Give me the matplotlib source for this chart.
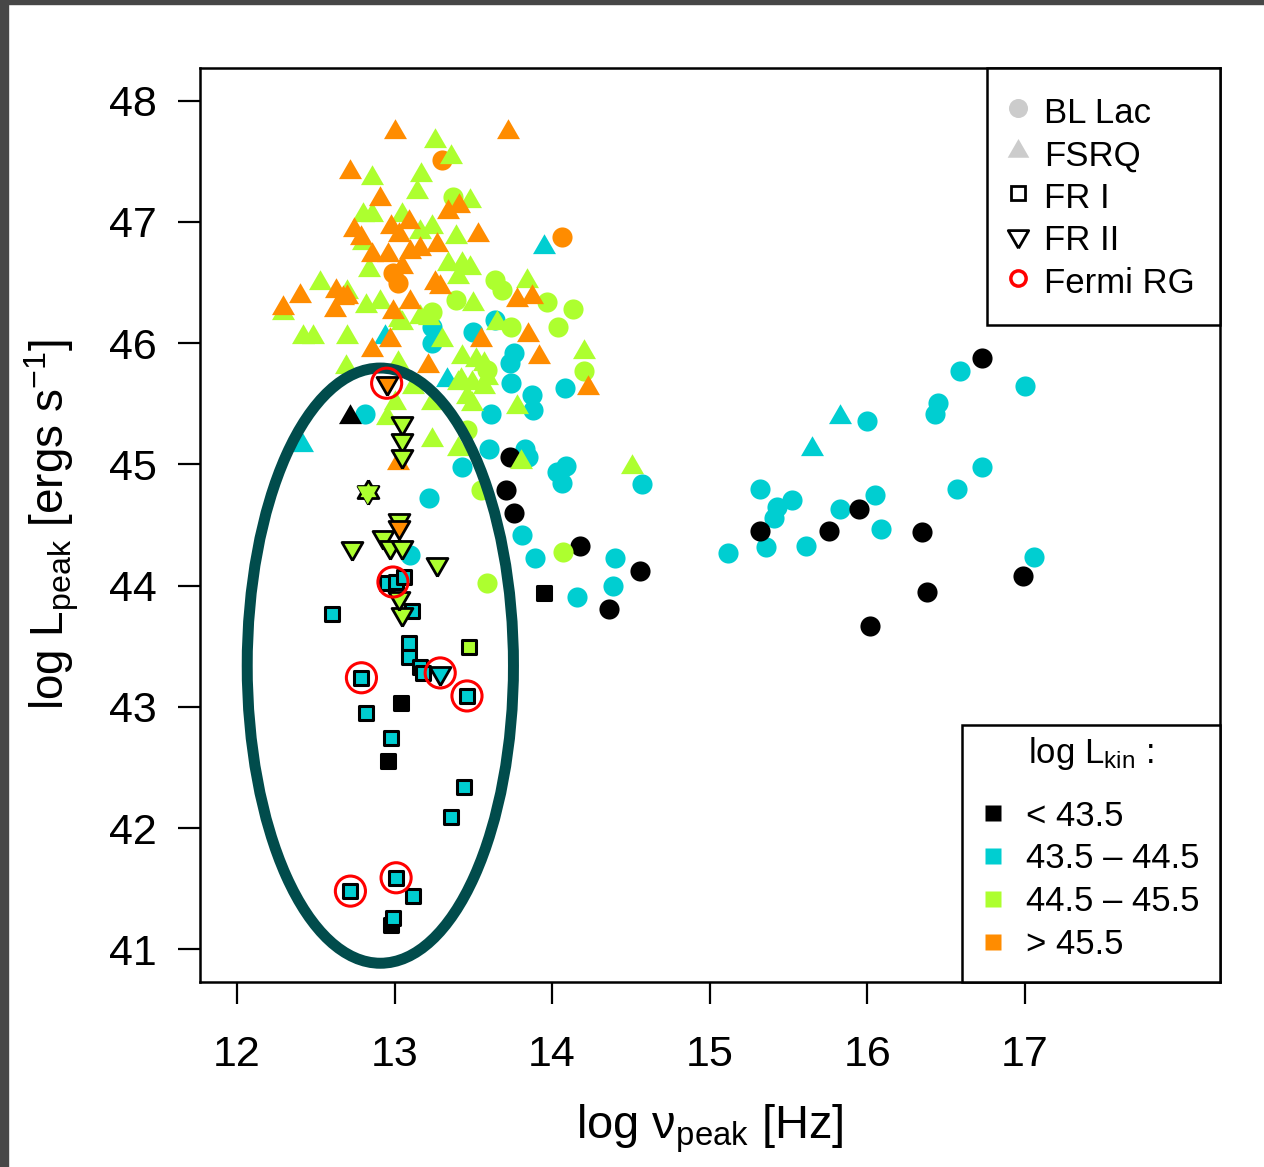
import numpy as np
import matplotlib.pyplot as plt
from matplotlib.patches import Ellipse, Rectangle
from matplotlib.lines import Line2D

plt.rcParams['font.family'] = ['Liberation Sans', 'DejaVu Sans']
plt.rcParams['mathtext.fontset'] = 'custom'
plt.rcParams['mathtext.rm'] = 'Liberation Sans'
plt.rcParams['mathtext.it'] = 'Liberation Sans'
plt.rcParams['mathtext.default'] = 'regular'

kin_colors = ['#000000', '#00CED1', '#ADFF2F', '#FF8C00']
kin_labels = ['< 43.5', '43.5 – 44.5', '44.5 – 45.5', '> 45.5']
type_labels = ['BL Lac', 'FSRQ', 'FR I', 'FR II', 'Fermi RG']

# BL Lac (log nu_peak, log L_peak), one pair per L_kin bin
bll_x0 = [16.73, 15.95, 15.76, 15.32, 16.35, 16.99, 16.38, 16.02, 14.56, 13.73, 13.71, 13.76, 14.18, 14.36]
bll_y0 = [45.88, 44.63, 44.45, 44.45, 44.44, 44.08, 43.95, 43.67, 44.12, 45.06, 44.79, 44.60, 44.33, 43.81]
bll_x1 = [16.05, 16.09, 15.83, 15.61, 15.52, 15.43, 15.41, 15.32, 15.36, 15.12, 16.00, 16.59, 16.45, 16.43,
          17.00, 16.73, 16.57, 17.06, 14.57, 13.24, 13.24, 13.50, 13.64, 13.76, 13.73, 13.74, 13.87, 13.88,
          14.08, 13.61, 13.60, 13.83, 13.85, 13.43, 14.03, 14.09, 14.06, 13.22, 13.81, 13.89, 14.40, 14.39,
          14.16, 13.10, 12.81]
bll_y1 = [44.75, 44.47, 44.63, 44.33, 44.71, 44.65, 44.56, 44.80, 44.32, 44.27, 45.36, 45.77, 45.51, 45.42,
          45.65, 44.98, 44.80, 44.24, 44.84, 46.13, 46.00, 46.09, 46.19, 45.92, 45.84, 45.67, 45.57, 45.45,
          45.63, 45.42, 45.13, 45.13, 45.06, 44.98, 44.94, 44.99, 44.85, 44.72, 44.42, 44.23, 44.23, 44.00,
          43.91, 44.25, 45.42]
bll_x2 = [13.37, 13.64, 13.68, 13.97, 14.13, 14.04, 14.20, 13.39, 13.24, 13.74, 13.59, 13.46, 13.55, 13.59, 14.07]
bll_y2 = [47.21, 46.52, 46.44, 46.34, 46.28, 46.13, 45.77, 46.36, 46.26, 46.13, 45.78, 45.28, 44.79, 44.02, 44.28]
bll_x3 = [13.30, 14.06, 12.99, 13.02]
bll_y3 = [47.51, 46.88, 46.58, 46.50]

# FSRQ
fsrq_x0 = [12.72]
fsrq_y0 = [45.39]
fsrq_x1 = [13.95, 12.94, 13.33, 12.41, 15.83, 15.65]
fsrq_y1 = [46.79, 46.05, 45.70, 45.16, 45.39, 45.13]
fsrq_x2 = [13.26, 13.36, 12.86, 13.17, 13.14, 13.48, 12.80, 12.86, 13.05, 13.16, 13.24, 13.39, 12.80, 13.34,
           13.43, 13.48, 13.40, 12.84, 12.53, 12.70, 12.82, 12.91, 12.29, 12.42, 12.48, 12.70, 13.05, 13.50,
           13.84, 13.30, 13.43, 13.52, 13.57, 14.20, 13.03, 13.40, 13.49, 13.57, 13.78, 13.49, 12.69, 13.02,
           13.24, 13.16, 13.22, 13.65, 13.24, 13.40, 13.80, 14.51, 13.00, 13.12, 13.46, 12.95, 13.59, 13.42]
fsrq_y2 = [47.67, 47.54, 47.36, 47.39, 47.25, 47.17, 47.06, 47.06, 47.06, 46.92, 46.96, 46.88, 46.83, 46.65,
           46.65, 46.62, 46.55, 46.60, 46.50, 46.42, 46.31, 46.34, 46.25, 46.05, 46.05, 46.05, 46.17, 46.32,
           46.51, 46.03, 45.89, 45.86, 45.83, 45.93, 46.19, 45.67, 45.67, 45.64, 45.47, 45.50, 45.80, 45.84,
           45.51, 46.22, 46.21, 46.17, 45.20, 45.13, 45.02, 44.98, 45.51, 45.64, 45.56, 45.38, 45.71, 45.70]
fsrq_x3 = [13.00, 13.72, 12.72, 12.91, 13.34, 13.41, 12.74, 12.79, 12.98, 13.09, 13.03, 13.53, 13.27, 13.16,
           13.10, 12.96, 12.86, 13.05, 13.26, 13.29, 12.40, 12.29, 12.63, 12.67, 12.70, 12.62, 12.99, 13.10,
           13.78, 13.87, 13.55, 13.85, 12.97, 12.86, 13.21, 13.92, 14.23, 13.02]
fsrq_y3 = [47.74, 47.74, 47.41, 47.19, 47.08, 47.13, 46.93, 46.87, 46.96, 47.00, 46.89, 46.89, 46.81, 46.78,
           46.75, 46.73, 46.73, 46.63, 46.50, 46.46, 46.39, 46.29, 46.43, 46.37, 46.38, 46.27, 46.26, 46.34,
           46.36, 46.38, 46.03, 46.07, 46.03, 45.94, 45.81, 45.89, 45.63, 45.01]

# FR I
fr1_x0 = [13.95, 13.04, 12.96, 12.98]
fr1_y0 = [43.94, 43.03, 42.55, 41.20]
fr1_x1 = [12.95, 13.01, 13.06, 12.60, 13.11, 13.09, 13.09, 13.16, 13.18, 12.79, 13.46, 12.82, 12.98, 13.44,
          13.36, 13.01, 12.72, 13.12, 12.99]
fr1_y1 = [44.02, 44.03, 44.07, 43.77, 43.79, 43.53, 43.41, 43.33, 43.28, 43.24, 43.09, 42.95, 42.74, 42.34,
          42.09, 41.59, 41.48, 41.44, 41.26]
fr1_x2 = [13.47]
fr1_y2 = [43.49]

# FR II
fr2_x1 = [13.29]
fr2_y1 = [43.28]
fr2_x2 = [13.05, 13.05, 13.05, 12.83, 13.03, 12.73, 12.93, 12.97, 13.05, 13.27, 13.05, 13.03]
fr2_y2 = [45.34, 45.20, 45.07, 44.77, 44.54, 44.31, 44.40, 44.32, 44.32, 44.18, 43.77, 43.90]
fr2_x3 = [12.95, 13.03]
fr2_y3 = [45.67, 44.48]
# the one drawn as a star (up + down triangle)
star_x = [12.83]
star_y = [44.77]

# Fermi radio galaxies
fermi_x = [12.95, 12.99, 12.79, 13.29, 13.46, 13.01, 12.72]
fermi_y = [45.67, 44.03, 43.24, 43.28, 43.09, 41.59, 41.48]

up_tri = [(0, 1), (-0.866, -0.5), (0.866, -0.5), (0, 1)]
down_tri = [(0, -1), (-0.866, 0.5), (0.866, 0.5), (0, -1)]

fig = plt.figure(figsize=(12.64, 11.67), dpi=100)
fig.patches.append(Rectangle((0, 0), 8 / 1264, 1, transform=fig.transFigure, color='#474747', zorder=0))
fig.patches.append(Rectangle((0, 1 - 4 / 1167), 1, 4 / 1167, transform=fig.transFigure, color='#474747', zorder=0))

ax = fig.add_axes([0.1582, 0.1585, 0.807, 0.7832])

bll = [(bll_x1, bll_y1), (bll_x0, bll_y0), (bll_x2, bll_y2), (bll_x3, bll_y3)]
for k, (x, y) in zip([1, 0, 2, 3], bll):
    ax.scatter(x, y, s=210, c=kin_colors[k], marker='o', linewidths=0, zorder=2)

fsrq = [(fsrq_x0, fsrq_y0), (fsrq_x1, fsrq_y1), (fsrq_x2, fsrq_y2), (fsrq_x3, fsrq_y3)]
for k, (x, y) in enumerate(fsrq):
    ax.scatter(x, y, s=365, c=kin_colors[k], marker=up_tri, linewidths=0, zorder=3)

ell = Ellipse((12.91, 43.34), 1.69, 4.91, fill=False, edgecolor='#014C4C', lw=7.9, zorder=4)
ax.add_patch(ell)

fr1 = [(fr1_x0, fr1_y0, 0), (fr1_x1, fr1_y1, 1), (fr1_x2, fr1_y2, 2)]
for x, y, k in fr1:
    ax.scatter(x, y, s=90, c=kin_colors[k], marker='s', edgecolors='black', linewidths=2.2, zorder=5)

fr2 = [(fr2_x1, fr2_y1, 1), (fr2_x2, fr2_y2, 2), (fr2_x3, fr2_y3, 3)]
for x, y, k in fr2:
    ax.scatter(x, y, s=300, c=kin_colors[k], marker=down_tri, edgecolors='black', linewidths=2, zorder=6)
ax.scatter(star_x, star_y, s=300, c=kin_colors[2], marker=up_tri, edgecolors='black', linewidths=2, zorder=6)
ax.scatter(star_x, star_y, s=300, c=kin_colors[2], marker=down_tri, edgecolors='none', zorder=6)

ax.scatter(fermi_x, fermi_y, s=470, facecolors='none', edgecolors='red', linewidths=2.2, zorder=7)

ax.set_xlim(11.765, 18.24)
ax.set_ylim(40.73, 48.27)
ax.set_xticks([12, 13, 14, 15, 16, 17])
ax.set_yticks([41, 42, 43, 44, 45, 46, 47, 48])
ax.tick_params(axis='both', direction='out', length=16, width=1.6, labelsize=31)
ax.tick_params(axis='x', pad=22)
ax.tick_params(axis='y', pad=15)
for sp in ax.spines.values():
    sp.set_linewidth(1.8)

ax.set_xlabel('log \u03bd$_{peak}$ [Hz]', fontsize=33.8, labelpad=20)
ax.set_ylabel('log L$_{peak}$ [ergs s$^{-1}$]', fontsize=33, labelpad=20)

# legend: source type
h1 = [
    Line2D([], [], ls='', marker='o', color='#CCCCCC', markersize=13.7, mec='none'),
    Line2D([], [], ls='', marker=up_tri, color='#CCCCCC', markersize=18, mec='none'),
    Line2D([], [], ls='', marker='s', mfc='none', mec='black', markersize=10, mew=2),
    Line2D([], [], ls='', marker=down_tri, mfc='none', mec='black', markersize=17, mew=2),
    Line2D([], [], ls='', marker='o', mfc='none', mec='red', markersize=11, mew=2.5),
]
leg1 = ax.legend(h1, type_labels, loc='upper right', bbox_to_anchor=(1, 1), borderaxespad=0,
                 fontsize=25, frameon=True, fancybox=False, edgecolor='black', framealpha=1,
                 borderpad=0.73, handlelength=0.3, handletextpad=0.6, labelspacing=0.18,
                 handleheight=1.18)
leg1.get_frame().set_linewidth(1.8)
ax.add_artist(leg1)

# legend: kinetic luminosity bins (title space kept blank, title text placed below)
h2 = [Line2D([], [], ls='', marker='s', color=c, markersize=12, mec='none') for c in kin_colors]
leg2 = ax.legend(h2, kin_labels, loc='lower right', bbox_to_anchor=(1, 0), borderaxespad=0,
                 fontsize=25, frameon=True, fancybox=False, edgecolor='black', framealpha=1,
                 borderpad=0.6, handlelength=0.58, handletextpad=0.66, labelspacing=0.285,
                 title=' ', title_fontsize=25)
leg2.get_frame().set_linewidth(1.8)
leg2._legend_box.sep = 14.6
ax.text(0.8118, 0.2396, 'log L$_{kin}$ :', transform=ax.transAxes, fontsize=25,
        ha='left', va='baseline', zorder=10)

fig.savefig('out.png', dpi=100)
